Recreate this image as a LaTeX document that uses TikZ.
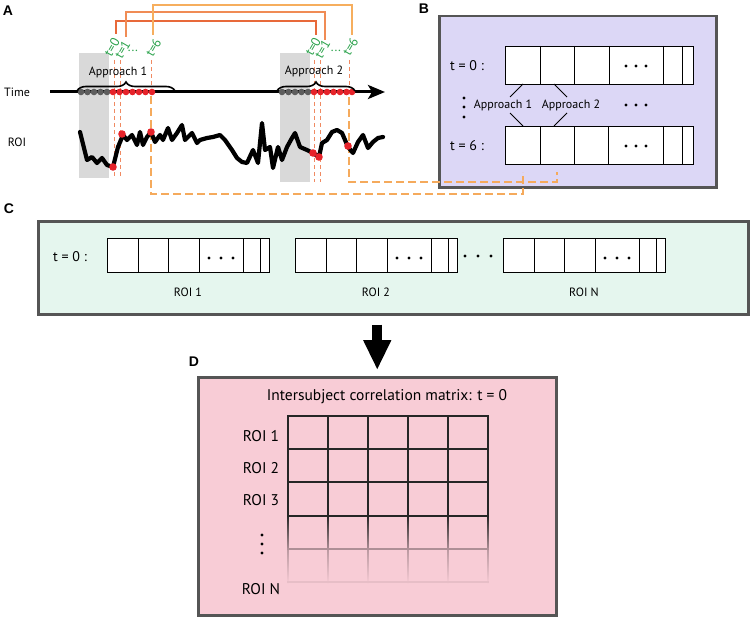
\documentclass[tikz,border=0pt]{standalone}
\usepackage{fontspec}
\setmainfont{PT Sans}
\newfontfamily\labfont{Liberation Sans}
\usetikzlibrary{arrows.meta,decorations.pathreplacing,calc}
\definecolor{graybg}{HTML}{D9D9D9}
\definecolor{dotgray}{HTML}{5E5E5E}
\definecolor{dotred}{HTML}{E6232A}
\definecolor{orA}{HTML}{E8693A}
\definecolor{orB}{HTML}{F08C55}
\definecolor{orC}{HTML}{F6AE5E}
\definecolor{dashor}{HTML}{F5AA5C}
\definecolor{thinor}{HTML}{F08A62}
\definecolor{tgreen}{HTML}{2BA24C}
\definecolor{lav}{HTML}{DCD7F6}
\definecolor{mint}{HTML}{E5F6EE}
\definecolor{pinkc}{HTML}{F8CCD6}
\definecolor{bord}{HTML}{555555}
\begin{document}
\begin{tikzpicture}[x=1pt,y=-1pt,
  panlab/.style={font=\labfont\bfseries\fontsize{14}{14}\selectfont, inner sep=0},
  txt/.style={font=\fontsize{12}{12}\selectfont, inner sep=0},
  btxt/.style={font=\fontsize{14}{14}\selectfont, inner sep=0},
  dtxt/.style={font=\fontsize{15.5}{15.5}\selectfont, inner sep=0},
  stxt/.style={font=\fontsize{12}{12}\selectfont, inner sep=0},
  gtxt/.style={text=tgreen, font=\fontsize{13}{13}\selectfont, rotate=60, inner sep=0},
  panel/.style={draw=bord, line width=2.5pt, anchor=north west, inner sep=0},
  rowbox/.style={draw, line width=1pt, fill=white, anchor=north west, inner sep=0},
  cellline/.style={line width=1pt},
  thindash/.style={draw=thinor, line width=0.9pt, dash pattern=on 4pt off 3pt},
  thickdash/.style={draw=dashor, line width=2pt, dash pattern=on 8pt off 4pt},
  brc/.style={decorate, decoration={brace, amplitude=9pt}, line width=1.6pt},
  gridl/.style={line width=1.5pt, draw=black!85}
]
\useasboundingbox (0,0) rectangle (750,618);

% ---------------- Panel A ----------------
\node[panlab] (labA) at (8,11) {A};
\fill[graybg] (79,53) rectangle (109,178);
\fill[graybg] (280,53) rectangle (310,182);

\node[txt] (time) at (17,92) {Time};
\node[txt] (roi) at (17,142) {ROI};

% thin dashed markers
\foreach \x/\yb in {114/178,120/178,314/182,320/182}
  \draw[thindash] (\x,60) -- (\x,\yb);
\draw[thindash] (151,60) -- (151,88);
\draw[thindash] (349,60) -- (349,88);

% B panel (drawn before the thick dashed connectors)
\node[panlab] (labB) at (424,9) {B};
\node[panel, fill=lav, minimum width=277pt, minimum height=171pt] (bbox) at (438,15) {};

% t=0 row
\node[rowbox, minimum width=188pt, minimum height=38pt] (brow0) at (505,46) {};
\foreach \x in {540,574,609,663,682} \draw[cellline] (\x,46) -- (\x,84);
\foreach \dx in {-10,0,10} \fill (636+\dx,66) circle (1.6);
% t=6 row
\node[rowbox, minimum width=188pt, minimum height=38pt] (brow6) at (505,126) {};
\foreach \x in {540,574,608,663,682} \draw[cellline] (\x,126) -- (\x,164);
\foreach \dx in {-10,0,10} \fill (636+\dx,146) circle (1.6);
\coordinate (b6c1) at (523,164);
\coordinate (b6c2) at (557,164);

\node[btxt] (bt0) at (467,66) {t = 0 :};
\node[btxt] (bt6) at (467,146) {t = 6 :};
\foreach \yy in {98,107,117} \fill (464,\yy) circle (1.6);
\node[stxt] (bap1) at (503,105) {Approach 1};
\node[stxt] (bap2) at (571,105) {Approach 2};
\foreach \dx in {-10,0,10} \fill (636+\dx,105) circle (1.6);
\draw[line width=0.8pt] (523,84) -- (510,97);
\draw[line width=0.8pt] (523,126) -- (510,113);
\draw[line width=0.8pt] (554,84) -- (567,97);
\draw[line width=0.8pt] (554,126) -- (567,113);

% thick dashed connectors from A to B
\coordinate (a1t6) at (151,96);
\coordinate (a2t6) at (349,97);
\draw[thickdash] (a1t6) -- (151,194) -| ($(b6c1)+(0,8)$);
\draw[thickdash] (a2t6) -- (349,182) -| ($(b6c2)+(0,8)$);

% ROI signal
\draw[line width=4.2pt, line join=round, line cap=round]
 (80,132) -- (87,160) -- (92,157) -- (97,163) -- (102,158) -- (107,165) -- (113,167)
 -- (118,147) -- (123,135) -- (127,140) -- (132,135) -- (137,145) -- (140,132)
 -- (143,145) -- (147,137) -- (151,132) -- (155,142) -- (160,135) -- (163,140)
 -- (168,128) -- (172,140) -- (177,133) -- (182,125) -- (185,140) -- (192,133)
 -- (197,143) -- (200,140) -- (207,138) -- (213,137) -- (220,135) -- (225,140)
 -- (232,150) -- (237,158) -- (242,162) -- (247,163) -- (253,150) -- (258,163)
 -- (262,123) -- (265,150) -- (270,147) -- (273,168) -- (278,147) -- (282,160)
 -- (287,147) -- (292,138) -- (295,133) -- (300,147) -- (307,150) -- (313,153)
 -- (319,157) -- (322,143) -- (327,140) -- (332,132) -- (337,130) -- (342,133)
 -- (348,147) -- (353,153) -- (358,142) -- (363,135) -- (368,148) -- (373,142)
 -- (378,138) -- (383,137);
\foreach \p in {(113,167),(122,134),(151,132),(313,153),(319,157),(348,146)}
  \fill[dotred] \p circle (3.8);

% time axis
\coordinate (tstart) at (50,92);
\coordinate (tend) at (385,92);
\draw[line width=3pt, -{Stealth[length=17pt,width=14pt,inset=4pt]}] (tstart) -- (tend);
\foreach \x in {81,87.5,94,100.5,107} \fill[dotgray] (\x,92) circle (3.3);
\foreach \x in {113,119.5,126,132.5,139,145.5,152} \fill[dotred] (\x,92) circle (3.3);
\foreach \x in {282,288.5,295,301.5,308} \fill[dotgray] (\x,92) circle (3.3);
\foreach \x in {314,320.5,327,333.5,340,346.5,352} \fill[dotred] (\x,92) circle (3.3);

% braces
\draw[brc] (77,91) -- (175,91);
\draw[brc] (277,91) -- (355,91);
\node[txt] (ap1) at (118,72) {Approach 1};
\node[txt] (ap2) at (314,71) {Approach 2};

% green labels
\node[gtxt] (g10) at (112,47) {t=0};
\node[gtxt] (g11) at (122.5,49.5) {t=1};
\node[text=tgreen, font=\fontsize{13}{13}\selectfont, inner sep=0] (g1d) at (133,51) {...};
\node[gtxt] (g16) at (153.5,47.5) {t=6};
\node[gtxt] (g20) at (313,46.5) {t=0};
\node[gtxt] (g21) at (322.5,49) {t=1};
\node[text=tgreen, font=\fontsize{13}{13}\selectfont, inner sep=0] (g2d) at (336,51) {...};
\node[gtxt] (g26) at (350.5,46.5) {t=6};

% orange linking lines
\coordinate (o10) at (116,34);
\coordinate (o20) at (316,35);
\coordinate (o11) at (126,37);
\coordinate (o21) at (325,40);
\coordinate (o16) at (153,35);
\coordinate (o26) at (352,35);
\draw[orA, line width=1.5pt] (o10) -- (116,21) -| (o20);
\draw[orB, line width=1.2pt] (o11) -- (126,12) -| (o21);
\draw[orC, line width=1.5pt] (o16) -- (153,5) -| (o26);

% ---------------- Panel C ----------------
\node[panlab] (labC) at (9,209) {C};
\node[panel, fill=mint, minimum width=710pt, minimum height=93pt] (cbox) at (37,220) {};
\node[btxt] (ct0) at (70,257) {t = 0 :};
\foreach \gx/\nm in {107/1,295/2,503/N}{
  \node[rowbox, minimum width=162pt, minimum height=34pt] (cg\nm) at (\gx,238) {};
  \foreach \dx in {31,61,92,136,153} \draw[cellline] (\gx+\dx,238) -- (\gx+\dx,272);
  \foreach \dd in {-12,0,12} \fill (\gx+114+\dd,258) circle (1.6);
  \node[txt] at (\gx+81,292) {ROI \nm};
}
\foreach \x in {465,478,491} \fill (\x,256) circle (1.6);

% ---------------- Panel D ----------------
\node[panlab] (labD) at (194,362) {D};
\node[panel, fill=pinkc, minimum width=358pt, minimum height=238pt] (dbox) at (197,376) {};
\draw[line width=10pt, -{Triangle[length=30pt,width=26pt]}, shorten <=9pt, shorten >=6pt]
  (cbox.south -| dbox.north) -- (dbox.north);
\node[dtxt] (dtitle) at (387,397) {Intersubject correlation matrix: t = 0};
\node[dtxt] (r1) at (261,436) {ROI 1};
\node[dtxt] (r2) at (261,468) {ROI 2};
\node[dtxt] (r3) at (261,500) {ROI 3};
\node[dtxt] (rn) at (261,589) {ROI N};
\foreach \yy in {535,544,553} \fill (262,\yy) circle (1.7);
% grid
\foreach \yy in {416,449,482,516} \draw[gridl] (287.25,\yy) -- (488.75,\yy);
\foreach \x in {288,328,368,408,448,488} {
  \draw[gridl] (\x,416) -- (\x,516);
  \shade[top color=black!85, bottom color=black!30!pinkc] (\x-0.75,516) rectangle (\x+0.75,549);
  \shade[top color=black!25!pinkc, bottom color=pinkc] (\x-0.75,549) rectangle (\x+0.75,584);
}
\draw[line width=1.5pt, draw=black!30!pinkc] (287.25,549) -- (488.75,549);
\draw[line width=1.5pt, draw=black!7!pinkc] (287.25,582) -- (488.75,582);
\end{tikzpicture}
\end{document}
